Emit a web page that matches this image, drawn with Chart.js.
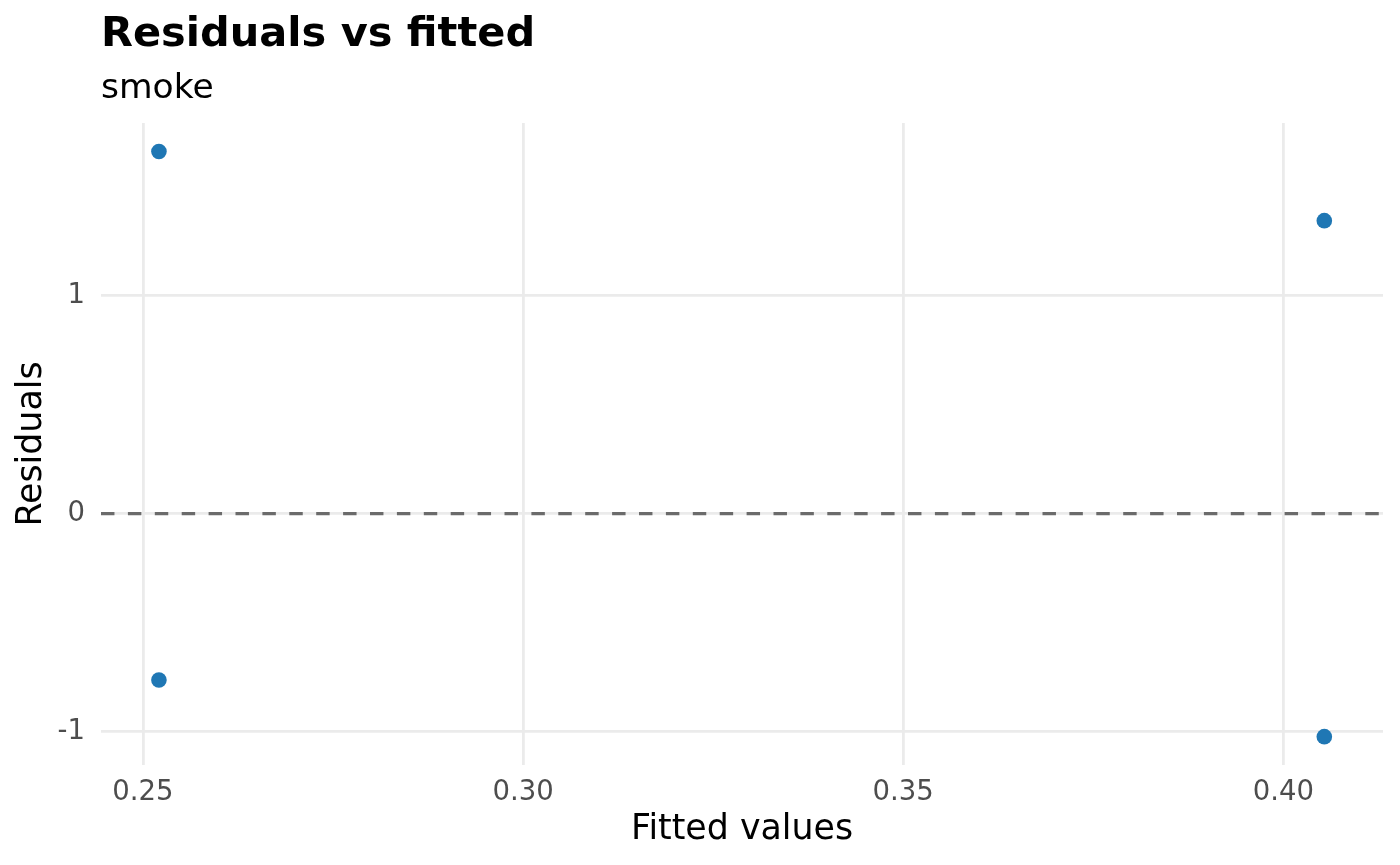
<!DOCTYPE html>
<html>
<head>
<meta charset="utf-8">
<script src="https://cdn.jsdelivr.net/npm/chart.js@4"></script>
<style>
  html, body { margin: 0; padding: 0; background: #fff; }
  #wrap { width: 1400px; height: 865px; }
</style>
</head>
<body>
<div id="wrap"><canvas id="resid-chart"></canvas></div>
<script>
var fitted_values = [0.2521, 0.2521, 0.4054, 0.4054];
var residual_values = [1.661, -0.763, 1.344, -1.023];
var x_ticks = [0.25, 0.30, 0.35, 0.40];
var y_ticks = [-1, 0, 1];
var x_limits = [0.24448, 0.41312];
var y_limits = [-1.153, 1.792];
var ref_level = 0;

var pointColor = "#1f77b4";
var gridColor = "#ebebeb";
var fontFamily = "'DejaVu Sans', sans-serif";

var points = fitted_values.map(function (x, i) {
  return { x: x, y: residual_values[i] };
});

new Chart("resid-chart", {
  type: "scatter",
  data: {
    datasets: [{
      label: "residuals",
      data: points,
      backgroundColor: pointColor,
      borderWidth: 0,
      pointRadius: 7.8,
      pointHoverRadius: 7.8
    }, {
      type: "line",
      label: "zero",
      data: [{ x: x_limits[0], y: ref_level }, { x: x_limits[1], y: ref_level }],
      borderColor: "#6b6b6b",
      borderWidth: 3.3,
      borderDash: [13.45, 13.45],
      pointRadius: 0,
      fill: false
    }]
  },
  options: {
    responsive: true,
    maintainAspectRatio: false,
    animation: false,
    layout: {
      padding: { left: 8, right: 17, top: 0, bottom: 0 }
    },
    plugins: {
      legend: { display: false },
      tooltip: { enabled: false },
      title: {
        display: true,
        text: "Residuals vs fitted",
        align: "start",
        fullSize: false,
        color: "#000",
        font: { family: fontFamily, size: 41.5, weight: "bold", lineHeight: 1.2 },
        padding: { top: 10.8, bottom: 0 }
      },
      subtitle: {
        display: true,
        text: "smoke",
        align: "start",
        fullSize: false,
        color: "#000",
        font: { family: fontFamily, size: 34.5, weight: "normal", lineHeight: 1.2 },
        padding: { top: 7.8, bottom: 13.2 }
      }
    },
    scales: {
      x: {
        type: "linear",
        min: x_limits[0],
        max: x_limits[1],
        afterBuildTicks: function (axis) {
          axis.ticks = x_ticks.map(function (v) { return { value: v }; });
        },
        afterFit: function (axis) { axis.height = 100; },
        grid: { color: gridColor, lineWidth: 2.8, drawTicks: false },
        border: { display: false },
        ticks: {
          padding: 10.9,
          color: "#4d4d4d",
          font: { family: fontFamily, size: 27.5, lineHeight: 1.2 },
          maxRotation: 0,
          callback: function (v) { return Number(v).toFixed(2); }
        },
        title: {
          display: true,
          text: "Fitted values",
          color: "#000",
          font: { family: fontFamily, size: 34.8, lineHeight: 1.2 },
          padding: { top: 2, bottom: 13.7 }
        }
      },
      y: {
        type: "linear",
        min: y_limits[0],
        max: y_limits[1],
        afterBuildTicks: function (axis) {
          axis.ticks = y_ticks.map(function (v) { return { value: v }; });
        },
        afterFit: function (axis) { axis.width = 93; },
        grid: { color: gridColor, lineWidth: 2.8, drawTicks: false },
        border: { display: false },
        ticks: {
          padding: 16,
          color: "#4d4d4d",
          font: { family: fontFamily, size: 27.5, lineHeight: 1.2 },
          callback: function (v) { return String(v); }
        },
        title: {
          display: true,
          text: "Residuals",
          color: "#000",
          font: { family: fontFamily, size: 34.8, lineHeight: 1.2 },
          padding: { top: 2.9, bottom: 4 }
        }
      }
    }
  }
});
</script>
</body>
</html>
